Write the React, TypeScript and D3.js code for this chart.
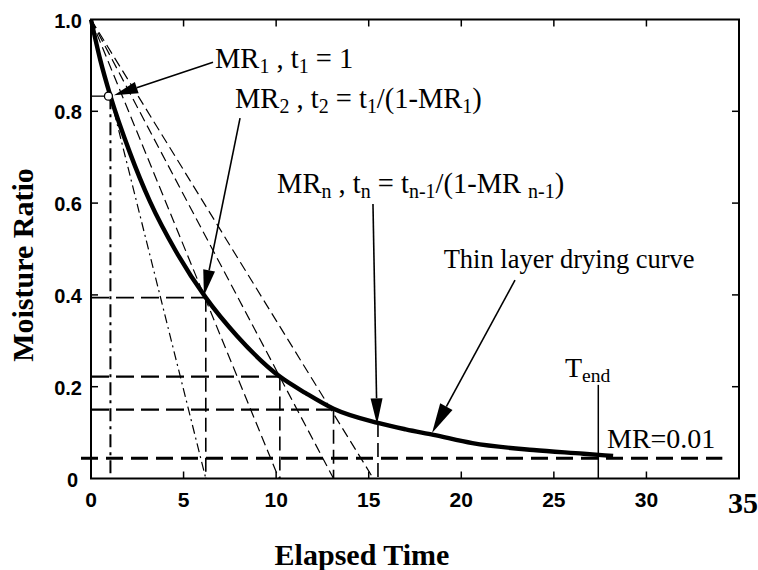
import React from "react";
import * as d3 from "d3";

// ---------- data ----------
const curveT = [0, 0.5, 1.05, 2.1, 3.2, 4.6, 6.2, 7.9, 10.2, 11.6, 13.1, 15.5, 17.0, 18.5, 20.6, 23.9, 26.6, 28.2];
const curveMR = [1.0, 0.912, 0.833, 0.71, 0.602, 0.494, 0.394, 0.31, 0.222, 0.186, 0.152, 0.121, 0.107, 0.095, 0.077, 0.062, 0.054, 0.049];

const stepT = [1.05, 6.2, 10.2, 13.1, 15.5];
const stepMR = [0.833, 0.394, 0.222, 0.15, 0.121];
const tangentEnds = [6.2, 10.15, 13.1, 15.25];

const thresholdMR = 0.044;
const tEnd = 27.4;

const xTicks = [0, 5, 10, 15, 20, 25, 30];
const xLastTick = 35;
const yTicks = [0, 0.2, 0.4, 0.6, 0.8, 1.0];
const yTickLabels = ["0", "0.2", "0.4", "0.6", "0.8", "1.0"];

const W = 758;
const H = 570;
const x = d3.scaleLinear().domain([0, 35]).range([91, 739]);
const y = d3.scaleLinear().domain([0, 1]).range([478.5, 19.5]);

type Seg = { t: string; sub?: boolean };
const label1: Seg[] = [{ t: "MR" }, { t: "1", sub: true }, { t: " , t" }, { t: "1", sub: true }, { t: " = 1" }];
const label2: Seg[] = [
  { t: "MR" }, { t: "2", sub: true }, { t: " , t" }, { t: "2", sub: true }, { t: " = t" }, { t: "1", sub: true },
  { t: "/(1-MR" }, { t: "1", sub: true }, { t: ")" },
];
const labelN: Seg[] = [
  { t: "MR" }, { t: "n", sub: true }, { t: " , t" }, { t: "n", sub: true }, { t: " = t" }, { t: "n-1", sub: true },
  { t: "/(1-MR " }, { t: "n-1", sub: true }, { t: ")" },
];

const serif = "'Liberation Serif', 'Times New Roman', serif";
const sans = "'Liberation Sans', Arial, sans-serif";

function RichText({ segs, px, py, size }: { segs: Seg[]; px: number; py: number; size: number }) {
  let off = 0;
  return (
    <text x={px} y={py} fontFamily={serif} fontSize={size} fill="#000">
      {segs.map((s, i) => {
        const target = s.sub ? 5 : 0;
        const dy = target - off;
        off = target;
        return (
          <tspan key={i} dy={dy} fontSize={s.sub ? size * 0.7 : size}>
            {s.t}
          </tspan>
        );
      })}
    </text>
  );
}

function Arrow({ t0, m0, t1, m1, len, hw }: { t0: number; m0: number; t1: number; m1: number; len: number; hw: number }) {
  const x0 = x(t0), y0 = y(m0), x1 = x(t1), y1 = y(m1);
  const dx = x1 - x0, dy = y1 - y0;
  const d = Math.hypot(dx, dy);
  const ux = dx / d, uy = dy / d;
  const bx = x1 - ux * len, by = y1 - uy * len;
  const pts = [
    [x1, y1],
    [bx - uy * hw, by + ux * hw],
    [bx + uy * hw, by - ux * hw],
  ];
  return (
    <g>
      <line x1={x0} y1={y0} x2={bx} y2={by} stroke="#000" strokeWidth={1.6} />
      <polygon points={pts.map((p) => p.join(",")).join(" ")} fill="#000" />
    </g>
  );
}

export default function App() {
  const curvePts: [number, number][] = curveT.map((t, i) => [x(t), y(curveMR[i])]);
  const curvePath = d3.line().curve(d3.curveMonotoneX)(curvePts) || "";

  return (
    <svg width={W} height={H} style={{ position: "fixed", left: 0, top: 0, background: "#fff" }}>
      <rect x={0} y={0} width={W} height={H} fill="#fff" />

      {/* tangent lines from (0,1) */}
      {tangentEnds.map((te, i) => (
        <line
          key={"tg" + i}
          x1={x(0)}
          y1={y(1)}
          x2={x(te)}
          y2={y(0)}
          stroke="#000"
          strokeWidth={1.2}
          strokeDasharray={i === 0 ? "9 4 2 4" : "10 5"}
        />
      ))}

      {/* horizontal guides */}
      <line x1={x(0)} y1={y(stepMR[0])} x2={x(stepT[0]) - 4} y2={y(stepMR[0])} stroke="#000" strokeWidth={1.3} />
      {stepMR.slice(1, 4).map((m, i) => (
        <line
          key={"h" + i}
          x1={x(0)}
          y1={y(m)}
          x2={x(stepT[i + 1])}
          y2={y(m)}
          stroke="#000"
          strokeWidth={i === 0 ? 1.7 : 2.4}
          strokeDasharray="18 7"
        />
      ))}

      {/* vertical guides */}
      <line
        x1={x(stepT[0])}
        y1={y(stepMR[0])}
        x2={x(stepT[0])}
        y2={y(0)}
        stroke="#000"
        strokeWidth={2}
        strokeDasharray="13 5 3 5"
      />
      {stepT.slice(1).map((t, i) => (
        <line
          key={"v" + i}
          x1={x(t)}
          y1={y(stepMR[i + 1])}
          x2={x(t)}
          y2={y(0)}
          stroke="#000"
          strokeWidth={1.6}
          strokeDasharray="14 6"
        />
      ))}

      {/* threshold line */}
      <line
        x1={x(-0.54)}
        y1={y(thresholdMR)}
        x2={x(34.1)}
        y2={y(thresholdMR)}
        stroke="#000"
        strokeWidth={3}
        strokeDasharray="17 8"
      />

      {/* T_end line */}
      <line x1={x(tEnd)} y1={y(0.204)} x2={x(tEnd)} y2={y(0)} stroke="#000" strokeWidth={1.5} />

      {/* drying curve */}
      <path d={curvePath} fill="none" stroke="#000" strokeWidth={4.4} strokeLinejoin="round" />

      {/* MR1 marker */}
      <circle cx={x(stepT[0]) - 2} cy={y(stepMR[0])} r={4} fill="#fff" stroke="#000" strokeWidth={1.3} />

      {/* axes box */}
      <rect x={x(0)} y={y(1)} width={x(35) - x(0)} height={y(0) - y(1)} fill="none" stroke="#000" strokeWidth={2} />
      {xTicks.slice(1).map((t) => (
        <g key={"xt" + t}>
          <line x1={x(t)} y1={y(0)} x2={x(t)} y2={y(0) - 7} stroke="#000" strokeWidth={1.5} />
          <line x1={x(t)} y1={y(1)} x2={x(t)} y2={y(1) + 7} stroke="#000" strokeWidth={1.5} />
        </g>
      ))}
      {yTicks.slice(1, 5).map((v) => (
        <g key={"yt" + v}>
          <line x1={x(0)} y1={y(v)} x2={x(0) + 7} y2={y(v)} stroke="#000" strokeWidth={1.5} />
          <line x1={x(35)} y1={y(v)} x2={x(35) - 7} y2={y(v)} stroke="#000" strokeWidth={1.5} />
        </g>
      ))}

      {/* tick labels */}
      {yTicks.map((v, i) => (
        <text
          key={"yl" + v}
          x={i === 0 ? 78 : 82}
          y={y(v) + 8}
          textAnchor="end"
          fontFamily={sans}
          fontWeight="bold"
          fontSize={20}
        >
          {yTickLabels[i]}
        </text>
      ))}
      {xTicks.map((t) => (
        <text key={"xl" + t} x={x(t)} y={507} textAnchor="middle" fontFamily={sans} fontWeight="bold" fontSize={21}>
          {t}
        </text>
      ))}
      <text x={x(xLastTick) + 4} y={513} textAnchor="middle" fontFamily={serif} fontWeight="bold" fontSize={30}>
        {xLastTick}
      </text>

      {/* axis titles */}
      <text
        transform="translate(33,265) rotate(-90)"
        textAnchor="middle"
        fontFamily={serif}
        fontWeight="bold"
        fontSize={30}
      >
        Moisture Ratio
      </text>
      <text x={362} y={565} textAnchor="middle" fontFamily={serif} fontWeight="bold" fontSize={30}>
        Elapsed Time
      </text>

      {/* annotations */}
      <Arrow t0={6.59} m0={0.907} t1={1.24} m1={0.835} len={24} hw={6} />
      <Arrow t0={8.05} m0={0.785} t1={6.1} m1={0.398} len={26} hw={6} />
      <Arrow t0={15.23} m0={0.598} t1={15.45} m1={0.118} len={26} hw={6} />
      <Arrow t0={22.9} m0={0.432} t1={18.42} m1={0.099} len={30} hw={7} />

      <RichText segs={label1} px={x(6.7)} py={y(0.894)} size={28.5} />
      <RichText segs={label2} px={x(7.78)} py={y(0.807)} size={28.5} />
      <RichText segs={labelN} px={x(10.05)} py={y(0.622)} size={28.5} />
      <text x={x(19.05)} y={y(0.4586)} fontFamily={serif} fontSize={26.5}>
        Thin layer drying curve
      </text>
      <RichText segs={[{ t: "T" }, { t: "end", sub: true }]} px={x(25.6)} py={y(0.221)} size={28} />
      <text x={x(27.87)} y={y(0.066)} fontFamily={serif} fontSize={28}>
        MR=0.01
      </text>
    </svg>
  );
}
